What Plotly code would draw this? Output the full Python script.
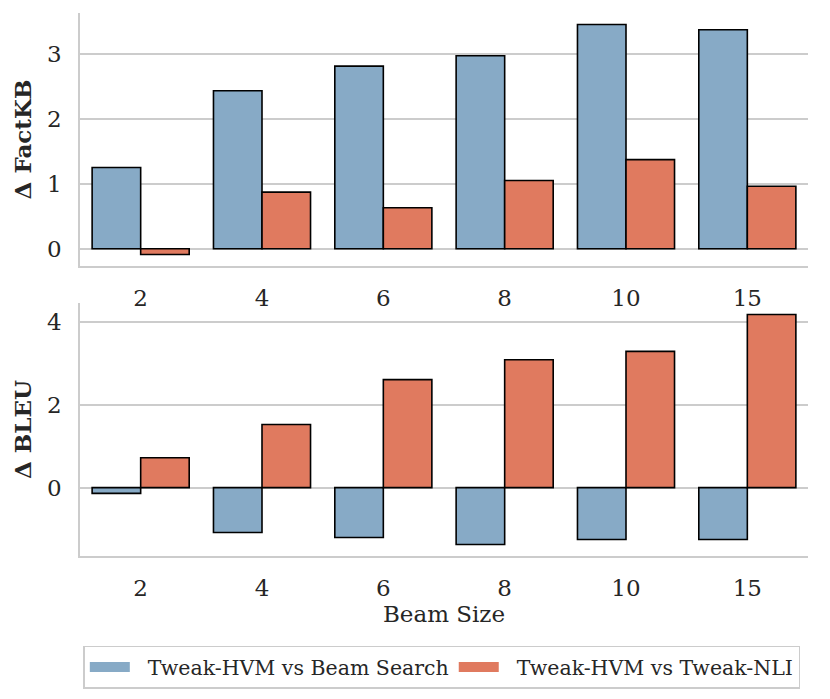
import plotly.graph_objects as go
from plotly.subplots import make_subplots

# tamaños de beam y diferencias
beam_sizes = ["2", "4", "6", "8", "10", "15"]
factkb_beam = [1.25, 2.43, 2.81, 2.97, 3.45, 3.37]
factkb_nli = [-0.09, 0.87, 0.63, 1.05, 1.37, 0.96]
bleu_beam = [-0.14, -1.08, -1.2, -1.37, -1.25, -1.25]
bleu_nli = [0.72, 1.52, 2.6, 3.08, 3.28, 4.17]

serie1 = "Tweak-HVM vs Beam Search"
serie2 = "Tweak-HVM vs Tweak-NLI"
azul = "#87aac6"
naranja = "#e07a5f"
gris = "#cccccc"
texto = "#262626"
fuente = "DejaVu Serif"

fig = make_subplots(rows=2, cols=1, vertical_spacing=0.068)

for fila, (v1, v2) in enumerate([(factkb_beam, factkb_nli), (bleu_beam, bleu_nli)], start=1):
    fig.add_trace(go.Bar(x=beam_sizes, y=v1, marker_color=azul,
                         marker_line=dict(color="black", width=1.6),
                         showlegend=False, name=serie1), row=fila, col=1)
    fig.add_trace(go.Bar(x=beam_sizes, y=v2, marker_color=naranja,
                         marker_line=dict(color="black", width=1.6),
                         showlegend=False, name=serie2), row=fila, col=1)

# entradas de leyenda con rectangulos anchos (espacios para separar el texto)
for nombre, color in [(serie1, azul), (serie2, naranja)]:
    fig.add_trace(go.Scatter(x=[None], y=[None], mode="lines", name="\u00a0\u00a0" + nombre,
                             line=dict(color=color, width=12)), row=1, col=1)

ejes_x = dict(type="category", range=[-0.5, 5.5], showgrid=False, showline=True,
              linecolor=gris, linewidth=1.5, ticks="", ticklabelstandoff=11,
              automargin=False, tickfont=dict(family=fuente, size=23, color=texto))
fig.update_xaxes(**ejes_x)
fig.update_xaxes(title=dict(text="Beam Size", standoff=5,
                            font=dict(family=fuente, size=23, color=texto)), row=2, col=1)

ejes_y = dict(showgrid=True, gridcolor=gris, gridwidth=1.5, zeroline=False,
              showline=True, linecolor=gris, linewidth=1.5, ticks="", automargin=False,
              ticklabelstandoff=12, tickfont=dict(family=fuente, size=23, color=texto))
fig.update_yaxes(**ejes_y)
fig.update_yaxes(range=[-0.267, 3.627], tickvals=[0, 1, 2, 3],
                 title=dict(text="<b>Δ FactKB</b>", standoff=9,
                            font=dict(family=fuente, size=23, color=texto)), row=1, col=1)
fig.update_yaxes(range=[-1.647, 4.447], tickvals=[0, 2, 4],
                 title=dict(text="<b>Δ BLEU</b>", standoff=9,
                            font=dict(family=fuente, size=23, color=texto)), row=2, col=1)

# la pagina añade 8px de margen al cuerpo, se compensa aqui
fig.update_layout(
    width=830, height=699,
    margin=dict(l=72, r=30, t=5, b=151),
    plot_bgcolor="white", paper_bgcolor="white",
    barmode="group", bargap=0.2, bargroupgap=0,
    font=dict(family=fuente, size=23, color=texto),
    legend=dict(orientation="h", x=0.497, xanchor="center", y=-0.165, yanchor="top",
                bordercolor=gris, borderwidth=1.5, itemwidth=40,
                font=dict(family=fuente, size=20.5, color=texto)),
)

fig.write_html("out.html")
